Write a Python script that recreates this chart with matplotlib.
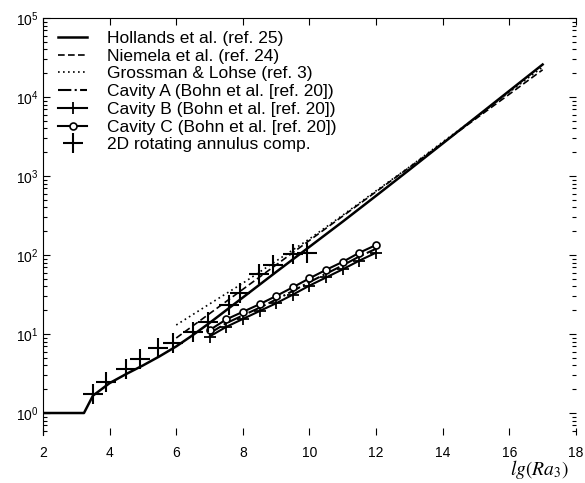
import matplotlib
matplotlib.use('Agg')
import matplotlib.pyplot as plt
from matplotlib.ticker import LogLocator, NullFormatter

plt.rcParams['font.family'] = ['Liberation Sans', 'DejaVu Sans']
plt.rcParams['mathtext.fontset'] = 'stix'

# Hollands et al. correlation
hol_x = [2, 3.23, 3.5, 3.77, 4, 4.5, 5, 5.5, 6, 6.5, 7, 7.5, 8, 9, 10, 11, 12, 13, 14, 15, 16, 17]
hol_y = [1.0, 1.0, 1.66, 2.02, 2.39, 3.12, 4.0, 5.22, 6.97, 9.7, 13.8, 20.0, 29.0, 61.0,
         127, 265, 562, 1200, 2580, 5556, 11970, 25790]

# Niemela et al.
nie_x = [6, 7, 8, 9, 10, 11, 12, 13, 14, 15, 16, 17]
nie_y = [8.9, 18.1, 36.8, 75, 153, 311, 633, 1288, 2620, 5330, 10850, 22100]

# Grossman & Lohse
gl_x = [6, 7, 8, 9, 10, 11, 12, 13, 14, 15, 16, 17]
gl_y = [13, 24, 44, 84, 160, 320, 650, 1300, 2700, 5500, 11500, 24000]

# Bohn et al. cavities
cav_x = [7, 7.5, 8, 8.5, 9, 9.5, 10, 10.5, 11, 11.5, 12]
cavA_y = [10.2, 13.7, 17.2, 21.5, 27.3, 35, 45.5, 58, 74, 96, 120]
cavB_y = [9.3, 12.3, 15.5, 19.5, 24.5, 31.5, 41, 52, 66, 85, 107]
cavC_y = [11.2, 15.3, 19.1, 23.8, 30.3, 39, 50.7, 65, 82, 107, 134]

# 2D rotating annulus computations
ann_x = [3.5, 3.9, 4.5, 4.9, 5.45, 5.9, 6.5, 6.95, 7.58, 7.92, 8.47, 8.92, 9.52, 9.92]
ann_y = [1.75, 2.5, 3.6, 4.8, 6.7, 7.8, 10.5, 14, 23.5, 33, 58, 74, 102, 106]

fig = plt.figure(figsize=(5.85, 4.83), dpi=100)
ax = fig.add_axes([0.0735, 0.0994, 0.911, 0.8633])

ax.plot(hol_x, hol_y, '-', color='black', lw=1.8, label='Hollands et al. (ref. 25)')
ax.plot(nie_x, nie_y, '--', color='black', lw=1.2, dashes=(4, 2), label='Niemela et al. (ref. 24)')
ax.plot(gl_x, gl_y, ':', color='black', lw=1.2, dashes=(1, 2), label='Grossman & Lohse (ref. 3)')
ax.plot(cav_x, cavA_y, '-.', color='black', lw=1.5, label='Cavity A (Bohn et al. [ref. 20])')
ax.plot(cav_x, cavB_y, '-', color='black', lw=1.5, marker='+', ms=8, mew=1.3,
        label='Cavity B (Bohn et al. [ref. 20])')
ax.plot(cav_x, cavC_y, '-', color='black', lw=1.5, marker='o', ms=5, mfc='white', mew=1.2,
        label='Cavity C (Bohn et al. [ref. 20])')
ax.plot(ann_x, ann_y, '+', color='black', ms=14, mew=1.5, label='2D rotating annulus comp.')

ax.set_yscale('log')
ax.set_xlim(2, 18)
ax.set_ylim(0.527, 1e5)
ax.set_xticks(range(2, 19, 2))
ax.yaxis.set_major_locator(LogLocator(base=10, numticks=10))
ax.yaxis.set_minor_locator(LogLocator(base=10, subs=range(2, 10), numticks=20))
ax.yaxis.set_minor_formatter(NullFormatter())
ax.tick_params(which='both', direction='in', top=True, right=True, labelsize=10, width=0.8)
ax.tick_params(which='major', length=5)
ax.tick_params(which='minor', length=3)
ax.tick_params(axis='x', pad=8)
for s in ['bottom', 'right']:
    ax.spines[s].set_visible(False)
for s in ['top', 'left']:
    ax.spines[s].set_linewidth(0.8)

fig.text(0.922, 0.027, r'$\mathit{lg(Ra_3)}$', fontsize=14, ha='center', va='center')

ax.legend(loc='upper left', frameon=False, fontsize=12.5, handlelength=1.7,
          handletextpad=1.15, labelspacing=0.15, borderaxespad=0.0,
          bbox_to_anchor=(0.015, 0.986))

fig.savefig('out.png', dpi=100)
